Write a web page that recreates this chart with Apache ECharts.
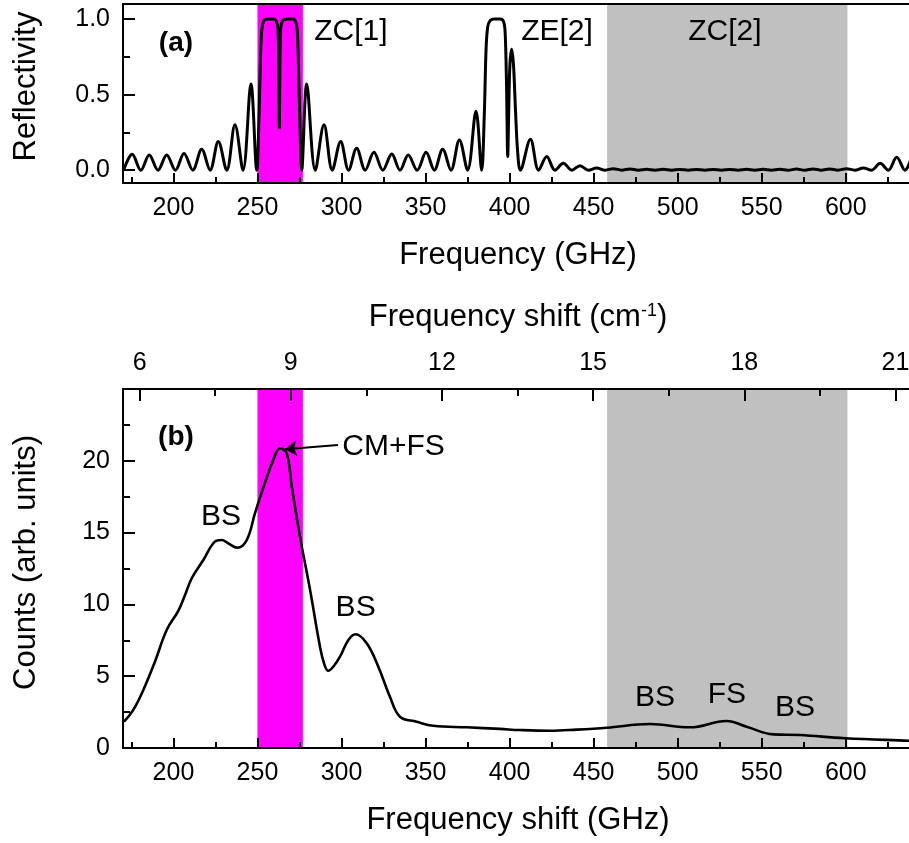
<!DOCTYPE html>
<html>
<head>
<meta charset="utf-8">
<script src="https://cdn.jsdelivr.net/npm/echarts@6/dist/echarts.min.js"></script>
<style>
html, body { margin: 0; padding: 0; background: #fff; }
#chart { width: 909px; height: 843px; }
</style>
</head>
<body>
<div id="chart"></div>
<script>
// ---- Panel (a): reflectivity spectrum (GHz, R) ----
const freqA = [
  170.4, 175.5, 180.6, 185.6, 190.8, 196.0, 201.2, 206.3, 211.5, 216.8, 221.8, 226.7, 231.7, 236.6, 241.4, 246.1, 249.6,
  250.8, 251.8, 252.6, 253.8, 256.0, 259.0, 261.0, 262.2, 262.7, 263.0, 263.3, 263.8, 265.0, 268.0, 271.0, 272.8, 273.8, 274.6, 275.4, 276.3,
  279.3, 284.4, 289.6, 294.5, 299.5, 304.2, 309.0, 314.1, 319.3, 324.6, 329.9, 334.8, 339.7, 345.0, 350.3, 355.2, 360.2, 365.1, 370.1, 375.0, 380.0, 383.4,
  384.9, 386.0, 387.0, 388.5, 391.0, 394.5, 396.5, 397.4, 398.2, 398.9, 399.5, 400.2, 401.2, 402.3, 403.5, 404.8, 406.4,
  412.4, 417.3, 422.1, 427.0, 432.0, 437.0, 441.9, 446.9, 451.8, 456.8, 461.7, 466.7, 471.6, 476.6,
  481.5, 486.5, 491.4, 496.4, 501.3, 506.3, 511.2, 516.2, 521.1, 526.1, 531.0, 536.0, 540.9, 545.9, 550.8, 555.8,
  560.7, 565.7, 570.6, 575.6, 580.5, 585.5, 590.4, 595.4, 600.4, 605.4, 610.4, 615.4, 620.4, 625.3, 630.3, 635.2, 640.0
];
const reflA = [
  0, 0.105, 0, 0.10, 0, 0.10, 0, 0.11, 0, 0.138, 0, 0.19, 0, 0.30, 0, 0.57, 0,
  0.30, 0.75, 0.93, 0.99, 1.0, 1.0, 0.99, 0.93, 0.60, 0.28, 0.60, 0.93, 0.99, 1.0, 1.0, 0.98, 0.90, 0.60, 0.25, 0,
  0.57, 0, 0.30, 0, 0.19, 0, 0.145, 0, 0.118, 0, 0.107, 0, 0.10, 0, 0.118, 0, 0.138, 0, 0.20, 0, 0.39, 0,
  0.35, 0.80, 0.95, 0.99, 1.0, 1.0, 0.98, 0.90, 0.55, 0.09, 0.40, 0.70, 0.80, 0.70, 0.40, 0.12, 0,
  0.205, 0, 0.09, 0, 0.045, 0, 0.03, 0, 0.015, 0, 0.01, 0, 0.008, 0,
  0.006, 0, 0.006, 0, 0.005, 0, 0.005, 0, 0.005, 0, 0.005, 0, 0.006, 0, 0.006, 0,
  0.006, 0, 0.007, 0, 0.008, 0, 0.008, 0, 0.01, 0, 0.015, 0, 0.045, 0, 0.085, 0, 0.12
];

// ---- Panel (b): Raman counts (GHz, arb. units) ----
const freqB = [
  170.6, 176.1, 182.1, 189.0, 196.0, 202.9, 206.9, 210.9, 217.8, 224.7, 228.7, 232.6, 238.0, 243.6, 248.5,
  253.0, 259.4, 263.4, 267.4, 270.4, 275.3, 281.3, 287.2, 289.6, 292.1, 295.1, 299.1, 304.1, 308.3, 315.0, 321.9,
  328.8, 334.8, 344.7, 354.6, 374.5, 394.3, 406.2, 424.0, 440.0, 457.8, 483.5, 507.3, 529.1, 541.0, 556.9, 572.8,
  599.5, 637.6, 640.0
];
const countsB = [
  1.83, 2.65, 4.04, 6.01, 8.22, 9.55, 10.65, 11.82, 13.09, 14.37, 14.48, 14.25, 13.95, 14.48, 16.34,
  17.97, 20.06, 20.87, 20.52, 18.2, 14.71, 11.0, 7.05, 5.9, 5.38, 5.66, 6.36, 7.52, 7.92, 7.29, 5.66,
  3.57, 2.18, 1.83, 1.55, 1.44, 1.33, 1.25, 1.2, 1.28, 1.41, 1.67, 1.44, 1.88, 1.48, 0.95, 0.9,
  0.68, 0.51, 0.5
];

// ---- Axis ticks ----
const ghzMajor = [200, 250, 300, 350, 400, 450, 500, 550, 600];
const ghzMinor = [175, 225, 275, 325, 375, 425, 475, 525, 575, 625];
const cmMajor = [6, 9, 12, 15, 18, 21];
const cmMinor = [7.5, 10.5, 13.5, 16.5, 19.5];
const reflMajor = [0, 0.5, 1.0];
const reflMinor = [0.25, 0.75];
const countMajor = [0, 5, 10, 15, 20];
const countMinor = [2.5, 7.5, 12.5, 17.5, 22.5];

// ---- Shaded bands (GHz) ----
const bandZC1 = [250, 277];
const bandZC2 = [458, 601];

// ---- Annotations ----
const annoTopText = ['(a)', 'ZC[1]', 'ZE[2]', 'ZC[2]'];
const annoTopFreq = [201.5, 305.6, 428.2, 528.1];
const annoTopRefl = [0.84, 0.915, 0.915, 0.915];
const annoBotText = ['(b)', 'BS', 'BS', 'BS', 'FS', 'BS'];
const annoBotFreq = [201.5, 228.3, 308.4, 486.5, 529.3, 569.8];
const annoBotCounts = [21.66, 16.09, 9.75, 3.48, 3.69, 2.79];
const peakLabel = { text: 'CM+FS', freq: 300.5, counts: 20.96 };
const peakArrow = { from: [297.9, 21.1], to: [266.4, 20.8] };

const X_MIN = 170, X_MAX = 640;
const GHZ_PER_CM = 29.9792458;
const FONT = 'Liberation Sans, Arial, Helvetica, sans-serif';
const BLACK = '#000000';

function zip(xs, ys) { return xs.map((x, i) => [x, ys[i]]); }

function baseAxis(extra) {
  return Object.assign({
    type: 'value',
    z: 5,
    axisLine: { show: false, onZero: false },
    axisTick: { show: false },
    axisLabel: { show: false },
    splitLine: { show: false }
  }, extra);
}
const line = { show: true, onZero: false, lineStyle: { color: BLACK, width: 2 } };
function ticks(values, len) {
  return { show: true, inside: true, length: len, customValues: values, lineStyle: { color: BLACK, width: 2 } };
}
function labels(values, fmt, margin) {
  const o = { show: true, customValues: values, color: BLACK, fontSize: 25, fontFamily: FONT, margin: margin };
  if (fmt) o.formatter = fmt;
  return o;
}
const nameStyle = { color: BLACK, fontSize: 31, fontFamily: FONT };

const xAxes = [];
const yAxes = [];
[0, 1].forEach(g => {
  const title = g === 0 ? 'Frequency (GHz)' : 'Frequency shift (GHz)';
  xAxes.push(baseAxis({
    gridIndex: g, position: 'bottom', min: X_MIN, max: X_MAX,
    axisLine: line, axisTick: ticks(ghzMajor, 10), axisLabel: labels(ghzMajor, null, 13),
    name: title, nameLocation: 'middle', nameGap: 57, nameTextStyle: nameStyle
  }));
  xAxes.push(baseAxis({ gridIndex: g, position: 'bottom', min: X_MIN, max: X_MAX, axisTick: ticks(ghzMinor, 6) }));
});
// top frame of panel (a)
xAxes.push(baseAxis({ gridIndex: 0, position: 'top', min: X_MIN, max: X_MAX, axisLine: line }));
// wavenumber axis on top of panel (b)
xAxes.push(baseAxis({
  gridIndex: 1, position: 'top', min: X_MIN / GHZ_PER_CM, max: X_MAX / GHZ_PER_CM,
  axisLine: line, axisTick: ticks(cmMajor, 12), axisLabel: labels(cmMajor, null, 13),
  name: '{n|Frequency shift (cm}{s|-1}{n|)}', nameLocation: 'middle', nameGap: 56,
  nameTextStyle: {
    color: BLACK, fontFamily: FONT,
    rich: {
      n: { fontSize: 31, fontFamily: FONT, color: BLACK },
      s: { fontSize: 18, fontFamily: FONT, color: BLACK, verticalAlign: 'top' }
    }
  }
}));
xAxes.push(baseAxis({ gridIndex: 1, position: 'top', min: X_MIN / GHZ_PER_CM, max: X_MAX / GHZ_PER_CM, axisTick: ticks(cmMinor, 7) }));

yAxes.push(baseAxis({
  gridIndex: 0, position: 'left', min: -0.085, max: 1.1,
  axisLine: line, axisTick: ticks(reflMajor, 12), axisLabel: labels(reflMajor, v => v.toFixed(1), 13),
  name: 'Reflectivity', nameLocation: 'middle', nameRotate: 90, nameGap: 81,
  nameTextStyle: Object.assign({ padding: [0, 0, 0, 14] }, nameStyle)
}));
yAxes.push(baseAxis({ gridIndex: 0, position: 'left', min: -0.085, max: 1.1, axisTick: ticks(reflMinor, 7) }));
yAxes.push(baseAxis({
  gridIndex: 1, position: 'left', min: 0, max: 25,
  axisLine: line, axisTick: ticks(countMajor, 12), axisLabel: labels(countMajor, null, 13),
  name: 'Counts (arb. units)', nameLocation: 'middle', nameRotate: 90, nameGap: 81,
  nameTextStyle: Object.assign({ padding: [0, 0, 0, 12] }, nameStyle)
}));
yAxes.push(baseAxis({ gridIndex: 1, position: 'left', min: 0, max: 25, axisTick: ticks(countMinor, 7) }));

function bands() {
  return {
    silent: true,
    data: [
      [{ xAxis: bandZC1[0], itemStyle: { color: '#ff00ff' } }, { xAxis: bandZC1[1] }],
      [{ xAxis: bandZC2[0], itemStyle: { color: '#c0c0c0' } }, { xAxis: bandZC2[1] }]
    ]
  };
}

const textLabel = {
  show: true, position: 'inside', formatter: p => p.name,
  color: BLACK, opacity: 1, fontSize: 30, fontFamily: FONT, textBorderWidth: 0
};

function textSeries(xi, yi, texts, xs, ys, extraByIndex) {
  return {
    type: 'scatter', xAxisIndex: xi, yAxisIndex: yi, silent: true, z: 6,
    symbol: 'circle', symbolSize: 0, itemStyle: { color: BLACK },
    label: textLabel,
    emphasis: { disabled: true },
    data: texts.map((t, i) => {
      const d = { name: t, value: [xs[i], ys[i]] };
      if (extraByIndex && extraByIndex[i]) d.label = extraByIndex[i];
      return d;
    })
  };
}

const chart = echarts.init(document.getElementById('chart'), null, { renderer: 'canvas' });
chart.setOption({
  animation: false,
  backgroundColor: '#fff',
  grid: [
    { left: 123, top: 4, width: 790, height: 179, outerBoundsMode: 'none', containLabel: false },
    { left: 123, top: 389, width: 790, height: 359, outerBoundsMode: 'none', containLabel: false }
  ],
  xAxis: xAxes,
  yAxis: yAxes,
  series: [
    {
      type: 'line', xAxisIndex: 0, yAxisIndex: 0, z: 3,
      data: zip(freqA, reflA), smooth: 0.35, showSymbol: false, symbol: 'none',
      lineStyle: { color: BLACK, width: 3 }, markArea: bands()
    },
    {
      type: 'line', xAxisIndex: 2, yAxisIndex: 2, z: 3,
      data: zip(freqB, countsB), smooth: 0.4, showSymbol: false, symbol: 'none',
      lineStyle: { color: BLACK, width: 2.6 }, markArea: bands(),
      markLine: {
        silent: true, symbol: ['none', 'arrow'], symbolSize: 12,
        lineStyle: { color: BLACK, width: 2, type: 'solid' }, label: { show: false },
        data: [[{ coord: peakArrow.from }, { coord: peakArrow.to }]]
      }
    },
    textSeries(0, 0, annoTopText, annoTopFreq, annoTopRefl, { 0: { fontWeight: 'bold', fontSize: 28 } }),
    textSeries(2, 2, annoBotText, annoBotFreq, annoBotCounts, { 0: { fontWeight: 'bold', fontSize: 28 } }),
    {
      type: 'scatter', xAxisIndex: 2, yAxisIndex: 2, silent: true, z: 6,
      symbol: 'circle', symbolSize: 0, itemStyle: { color: BLACK },
      emphasis: { disabled: true },
      label: { show: true, position: 'right', distance: 0, formatter: p => p.name, color: BLACK, opacity: 1, fontSize: 30, fontFamily: FONT, textBorderWidth: 0 },
      data: [{ name: peakLabel.text, value: [peakLabel.freq, peakLabel.counts] }]
    }
  ]
});
</script>
</body>
</html>
